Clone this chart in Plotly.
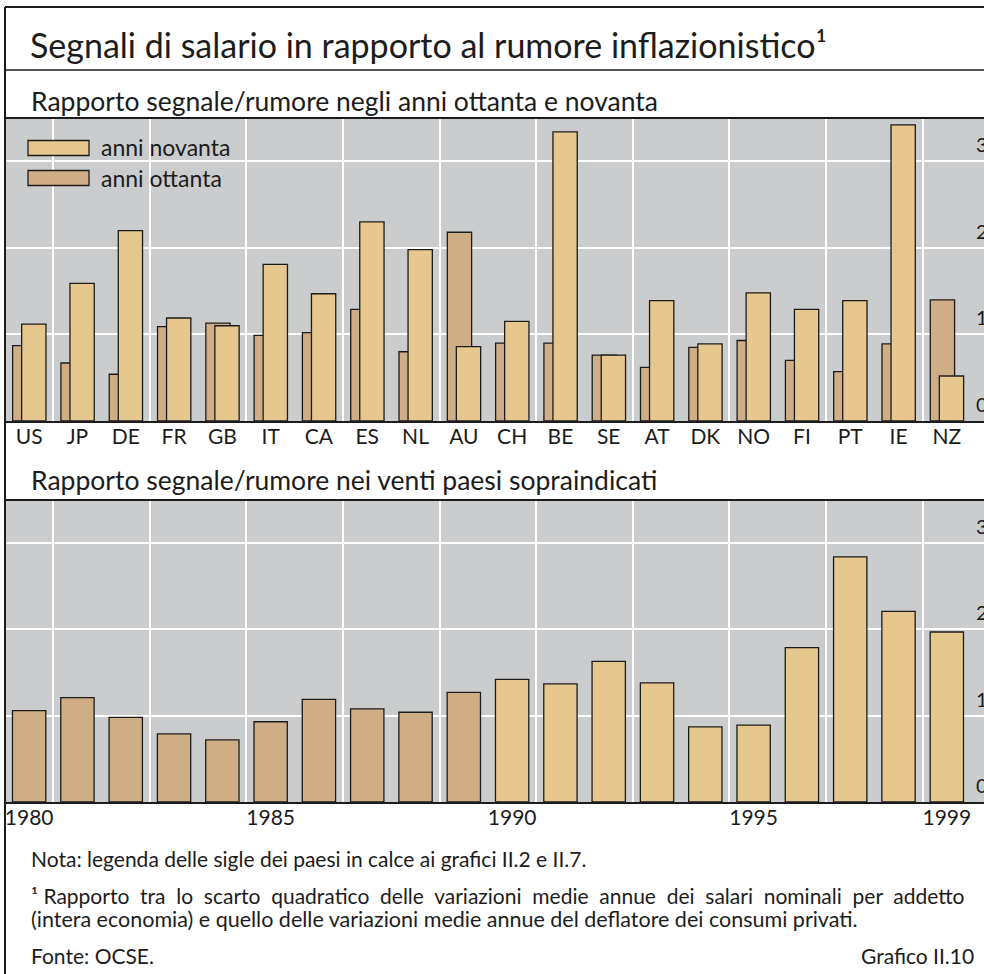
import plotly.graph_objects as go

W, H = 984, 974

countries = ["US", "JP", "DE", "FR", "GB", "IT", "CA", "ES", "NL", "AU",
             "CH", "BE", "SE", "AT", "DK", "NO", "FI", "PT", "IE", "NZ"]
ottanta = [0.87, 0.67, 0.54, 1.09, 1.13, 0.99, 1.02, 1.29, 0.80, 2.18,
           0.90, 0.90, 0.76, 0.62, 0.85, 0.93, 0.70, 0.57, 0.89, 1.40]
novanta = [1.12, 1.59, 2.20, 1.19, 1.10, 1.81, 1.47, 2.30, 1.98, 0.86,
           1.15, 3.34, 0.76, 1.39, 0.89, 1.48, 1.29, 1.39, 3.42, 0.52]

years = list(range(1980, 2000))
venti_paesi = [1.06, 1.21, 0.98, 0.79, 0.72, 0.93, 1.19, 1.08, 1.04, 1.27,
               1.42, 1.37, 1.63, 1.38, 0.87, 0.89, 1.79, 2.84, 2.21, 1.97]

year_ticks = [1980, 1985, 1990, 1995, 1999]
y_ticks = [0, 1, 2, 3]

INK = "#1c1c1c"
BG = "#cbcccd"
C80 = "#cfae86"
C90 = "#e6c78d"
FONT = "Lato"


def px(x):
    return x / W


def py(y):
    return 1 - y / H


fig = go.Figure()
pos = list(range(len(countries)))
fig.add_trace(go.Bar(x=pos, y=ottanta, name="anni ottanta", offset=-0.342, width=0.503,
                     marker=dict(color=C80, line=dict(color=INK, width=1.3)),
                     xaxis="x", yaxis="y"))
fig.add_trace(go.Bar(x=pos, y=novanta, name="anni novanta", offset=-0.155, width=0.503,
                     marker=dict(color=C90, line=dict(color=INK, width=1.3)),
                     xaxis="x", yaxis="y"))
fig.add_trace(go.Bar(x=years, y=venti_paesi, width=0.69,
                     marker=dict(color=[C80 if yr < 1990 else C90 for yr in years],
                                 line=dict(color=INK, width=1.3)),
                     xaxis="x2", yaxis="y2"))

xcommon = dict(showgrid=False, zeroline=False, showline=True, linecolor=INK, linewidth=2,
               ticks="", tickfont=dict(size=21, color=INK, family=FONT), ticklabelstandoff=-4,
               domain=[px(5), 1], fixedrange=True)
ycommon = dict(range=[0, 3.5], tickmode="array", tickvals=y_ticks[1:], showticklabels=False,
               showgrid=True, gridcolor="white", gridwidth=1.5, zeroline=False, ticks="")

fig.update_layout(
    width=W, height=H,
    margin=dict(l=0, r=0, t=0, b=0),
    paper_bgcolor="white", plot_bgcolor=BG,
    barmode="overlay", showlegend=False,
    font=dict(family=FONT, color=INK),
    xaxis=dict(xcommon, range=[-0.5, 19.77], tickmode="array", tickvals=pos, ticktext=countries,
               anchor="y",
               minor=dict(tickmode="array", tickvals=[i + 0.5 for i in range(0, 19, 2)],
                          showgrid=True, gridcolor="white", gridwidth=1.5, ticklen=0)),
    yaxis=dict(ycommon, domain=[py(421), py(118)], anchor="x"),
    xaxis2=dict(xcommon, range=[1979.5, 1999.77], tickmode="array", tickvals=year_ticks,
                anchor="y2",
                minor=dict(tickmode="array", tickvals=[yr + 0.5 for yr in range(1980, 1999, 2)],
                           showgrid=True, gridcolor="white", gridwidth=1.5, ticklen=0)),
    yaxis2=dict(ycommon, domain=[py(802), py(500)], anchor="x2"),
)

shapes = []


def hline(y, x0=5, x1=W, w=2):
    shapes.append(dict(type="line", xref="paper", yref="paper", x0=px(x0), x1=px(x1),
                       y0=py(y), y1=py(y), line=dict(color=INK, width=w), layer="above"))


shapes.append(dict(type="line", xref="paper", yref="paper", x0=px(5), x1=px(5),
                   y0=py(7), y1=0, line=dict(color=INK, width=2)))
hline(7)
hline(70, w=1.5)
hline(118)
hline(500)

# legend boxes
for (yc, col) in [(148, C90), (178, C80)]:
    shapes.append(dict(type="rect", xref="paper", yref="paper", x0=px(28), x1=px(89),
                       y0=py(yc - 7.5), y1=py(yc + 7.5), fillcolor=col,
                       line=dict(color=INK, width=1.3)))
fig.update_layout(shapes=shapes)

ann = []


def text(t, x, y, size, anchor="left"):
    ann.append(dict(text=t, xref="paper", yref="paper", x=px(x), y=py(y), xanchor=anchor,
                    yanchor="middle", showarrow=False, font=dict(size=size, color=INK, family=FONT)))


# la riga giustificata della nota: spazi raddoppiati
nota1 = ("Rapporto tra lo scarto quadratico delle variazioni medie annue dei salari "
         "nominali per addetto").replace(" ", "\u00a0 ")

text("Segnali di salario in rapporto al rumore inflazionistico\u00b9", 28, 44, 34)
text("Rapporto segnale/rumore negli anni ottanta e novanta", 29, 101, 26.5)
text("Rapporto segnale/rumore nei venti paesi sopraindicati", 29, 480, 26.5)
text("anni novanta", 99, 147, 23)
text("anni ottanta", 99, 178, 23)
text("Nota: legenda delle sigle dei paesi in calce ai grafici II.2 e II.7.", 29, 858, 21)
text("\u00b9 " + nota1, 29, 895, 21)
text("(intera economia) e quello delle variazioni medie annue del deflatore dei consumi privati.",
     29, 919, 21.5)
text("Fonte: OCSE.", 29, 955, 21)
text("Grafico II.10", 976, 955, 21, anchor="right")

for yref in ["y", "y2"]:
    for v in y_ticks:
        ann.append(dict(text=str(v), xref="paper", yref=yref, x=px(977), y=v, xanchor="left",
                        yanchor="bottom", yshift=3, xshift=-3, showarrow=False,
                        font=dict(size=20, color=INK, family=FONT)))

fig.update_layout(annotations=ann)

fig.write_html("out.html", config={"displayModeBar": False},
               post_script="document.body.style.margin='0px';")
